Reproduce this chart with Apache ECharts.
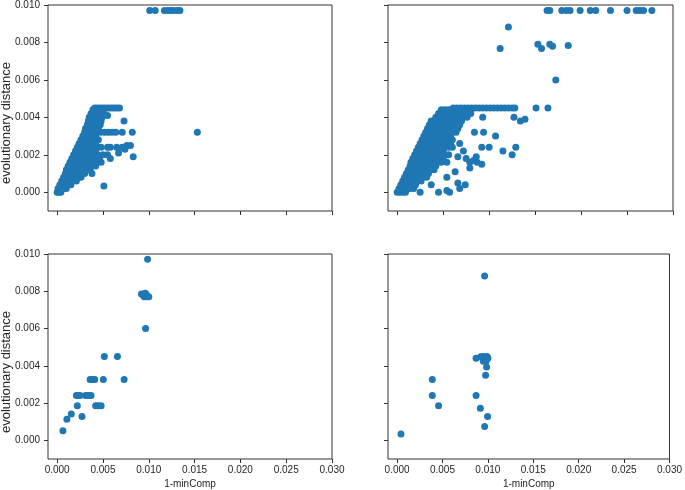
<!DOCTYPE html>
<html>
<head>
<meta charset="utf-8">
<script src="https://cdn.jsdelivr.net/npm/echarts@6/dist/echarts.min.js"></script>
<style>html,body{margin:0;padding:0;background:#fff}#c{width:685px;height:490px}</style>
</head>
<body>
<div id="c"></div>
<script>
// Tick values and labels
var xTicks = [0, 0.005, 0.010, 0.015, 0.020, 0.025, 0.030];
var xTickLabels = ['0.000', '0.005', '0.010', '0.015', '0.020', '0.025', '0.030'];
var yTicks = [0, 0.002, 0.004, 0.006, 0.008, 0.010];
var yTickLabels = ['0.000', '0.002', '0.004', '0.006', '0.008', '0.010'];
var xName = '1-minComp';
var yName = 'evolutionary distance';

// Top-left panel points [1-minComp, evolutionary distance]
var topLeftPoints = [
 [0.0000,0.0000],[0.0002,0.0000],[0.0004,0.0000],
 [0.0001,0.0002],[0.0004,0.0002],[0.0007,0.0002],[0.0010,0.0002],
 [0.0003,0.0004],[0.0006,0.0004],[0.0009,0.0004],[0.0012,0.0004],[0.0015,0.0004],
 [0.0005,0.0006],[0.0008,0.0006],[0.0011,0.0006],[0.0014,0.0006],[0.0017,0.0006],[0.0021,0.0006],
 [0.0007,0.0008],[0.0010,0.0008],[0.0013,0.0008],[0.0016,0.0008],[0.0020,0.0008],[0.0023,0.0008],[0.0026,0.0008],
 [0.0009,0.0010],[0.0012,0.0010],[0.0015,0.0010],[0.0018,0.0010],[0.0022,0.0010],[0.0026,0.0010],[0.0030,0.0010],[0.0038,0.0010],
 [0.0010,0.0012],[0.0013,0.0012],[0.0016,0.0012],[0.0020,0.0012],[0.0024,0.0012],[0.0028,0.0012],[0.0032,0.0012],[0.0036,0.0012],
 [0.0012,0.0014],[0.0015,0.0014],[0.0018,0.0014],[0.0022,0.0014],[0.0026,0.0014],[0.0030,0.0014],[0.0034,0.0014],[0.0038,0.0014],[0.0042,0.0014],
 [0.0014,0.0016],[0.0017,0.0016],[0.0020,0.0016],[0.0024,0.0016],[0.0028,0.0016],[0.0032,0.0016],[0.0036,0.0016],[0.0040,0.0016],[0.0044,0.0016],[0.0048,0.0016],
 [0.0016,0.0018],[0.0019,0.0018],[0.0022,0.0018],[0.0026,0.0018],[0.0030,0.0018],[0.0034,0.0018],[0.0038,0.0018],[0.0042,0.0018],[0.0046,0.0018],[0.0058,0.0018],
 [0.0083,0.0019],
 [0.0018,0.0020],[0.0021,0.0020],[0.0024,0.0020],[0.0028,0.0020],[0.0032,0.0020],[0.0036,0.0020],[0.0040,0.0020],[0.0044,0.0020],[0.0050,0.0020],[0.0055,0.0020],
 [0.0067,0.0021],
 [0.0020,0.0022],[0.0023,0.0022],[0.0026,0.0022],[0.0030,0.0022],[0.0034,0.0022],[0.0038,0.0022],[0.0042,0.0022],
 [0.0022,0.0024],[0.0025,0.0024],[0.0028,0.0024],[0.0032,0.0024],[0.0036,0.0024],[0.0040,0.0024],[0.0044,0.0024],[0.0048,0.0024],[0.0055,0.0024],[0.0058,0.0024],[0.0065,0.0024],[0.0071,0.0024],[0.0074,0.0023],[0.0076,0.0025],[0.0080,0.0025],
 [0.0024,0.0026],[0.0027,0.0026],[0.0030,0.0026],[0.0034,0.0026],[0.0038,0.0026],[0.0042,0.0026],
 [0.0026,0.0028],[0.0029,0.0028],[0.0032,0.0028],[0.0036,0.0028],[0.0040,0.0028],[0.0045,0.0028],
 [0.0028,0.0030],[0.0031,0.0030],[0.0034,0.0030],[0.0038,0.0030],[0.0042,0.0030],
 [0.0030,0.0032],[0.0033,0.0032],[0.0036,0.0032],[0.0040,0.0032],[0.0044,0.0032],[0.0048,0.0032],[0.0052,0.0032],[0.0056,0.0032],[0.0060,0.0032],[0.0064,0.0032],[0.0071,0.0032],[0.0082,0.0032],
 [0.0031,0.0034],[0.0034,0.0034],[0.0037,0.0034],[0.0041,0.0034],[0.0045,0.0034],
 [0.0033,0.0036],[0.0036,0.0036],[0.0039,0.0036],[0.0043,0.0036],[0.0047,0.0036],
 [0.0034,0.0038],[0.0037,0.0038],[0.0040,0.0038],[0.0044,0.0038],[0.0048,0.0038],[0.0073,0.0038],
 [0.0035,0.0040],[0.0038,0.0040],[0.0041,0.0040],[0.0045,0.0040],[0.0049,0.0040],
 [0.0055,0.0041],
 [0.0037,0.0042],[0.0040,0.0042],[0.0043,0.0042],[0.0047,0.0042],[0.0051,0.0042],
 [0.0039,0.0044],[0.0042,0.0044],[0.0046,0.0044],[0.0050,0.0044],
 [0.0041,0.0045],[0.0044,0.0045],[0.0047,0.0045],[0.0050,0.0045],[0.0053,0.0045],[0.0056,0.0045],[0.0059,0.0045],[0.0062,0.0045],[0.0065,0.0045],[0.0068,0.0045],
 [0.0051,0.00034],[0.0153,0.0032],
 [0.0101,0.0097],[0.0107,0.0097],[0.0117,0.0097],[0.0121,0.0097],[0.0124,0.0097],[0.0127,0.0097],[0.0131,0.0097],[0.0134,0.0097]
];

// Top-right panel points
var topRightPoints = [
 [0.0000,0.0000],[0.0003,0.0000],[0.0006,0.0000],[0.0009,0.0000],[0.0025,0.0000],[0.0045,0.0000],[0.0054,0.0001],[0.0057,0.0000],
 [0.0002,0.0002],[0.0005,0.0002],[0.0008,0.0002],[0.0011,0.0002],[0.0014,0.0002],[0.0018,0.0002],[0.0066,0.0005],[0.0068,0.0002],[0.0074,0.0004],
 [0.0004,0.0004],[0.0007,0.0004],[0.0010,0.0004],[0.0013,0.0004],[0.0016,0.0004],[0.0020,0.0004],[0.0037,0.0004],
 [0.0006,0.0006],[0.0009,0.0006],[0.0012,0.0006],[0.0015,0.0006],[0.0018,0.0006],[0.0022,0.0006],[0.0026,0.0006],
 [0.0008,0.0008],[0.0011,0.0008],[0.0014,0.0008],[0.0017,0.0008],[0.0020,0.0008],[0.0024,0.0008],[0.0028,0.0008],[0.0032,0.0008],[0.0054,0.0008],
 [0.0010,0.0010],[0.0013,0.0010],[0.0016,0.0010],[0.0019,0.0010],[0.0022,0.0010],[0.0026,0.0010],[0.0030,0.0010],[0.0034,0.0010],[0.0063,0.0011],
 [0.0012,0.0012],[0.0015,0.0012],[0.0018,0.0012],[0.0021,0.0012],[0.0024,0.0012],[0.0028,0.0012],[0.0032,0.0012],[0.0036,0.0012],[0.0040,0.0012],
 [0.0014,0.0014],[0.0017,0.0014],[0.0020,0.0014],[0.0023,0.0014],[0.0026,0.0014],[0.0030,0.0014],[0.0034,0.0014],[0.0038,0.0014],[0.0042,0.0014],[0.0079,0.0013],
 [0.0015,0.0016],[0.0018,0.0016],[0.0021,0.0016],[0.0024,0.0016],[0.0028,0.0016],[0.0032,0.0016],[0.0036,0.0016],[0.0040,0.0016],[0.0044,0.0016],[0.0048,0.0016],[0.0054,0.0016],[0.0079,0.0016],[0.0087,0.0016],[0.0092,0.0015],
 [0.0017,0.0018],[0.0020,0.0018],[0.0023,0.0018],[0.0026,0.0018],[0.0030,0.0018],[0.0034,0.0018],[0.0038,0.0018],[0.0042,0.0018],[0.0046,0.0018],[0.0050,0.0018],[0.0066,0.0019],[0.0075,0.0018],[0.0083,0.0017],
 [0.0019,0.0020],[0.0022,0.0020],[0.0025,0.0020],[0.0028,0.0020],[0.0032,0.0020],[0.0036,0.0020],[0.0040,0.0020],[0.0044,0.0020],[0.0048,0.0020],[0.0052,0.0020],[0.0056,0.0020],[0.0086,0.0019],[0.0125,0.0020],
 [0.0021,0.0022],[0.0024,0.0022],[0.0027,0.0022],[0.0030,0.0022],[0.0034,0.0022],[0.0038,0.0022],[0.0042,0.0022],[0.0046,0.0022],[0.0050,0.0022],[0.0072,0.0022],[0.0115,0.0022],
 [0.0023,0.0024],[0.0026,0.0024],[0.0029,0.0024],[0.0032,0.0024],[0.0036,0.0024],[0.0040,0.0024],[0.0044,0.0024],[0.0048,0.0024],[0.0052,0.0024],[0.0056,0.0024],[0.0060,0.0024],[0.0092,0.0024],[0.0100,0.0024],[0.0129,0.0024],
 [0.0025,0.0026],[0.0028,0.0026],[0.0031,0.0026],[0.0034,0.0026],[0.0038,0.0026],[0.0042,0.0026],[0.0046,0.0026],[0.0050,0.0026],[0.0054,0.0026],[0.0058,0.0026],[0.0068,0.0026],
 [0.0027,0.0028],[0.0030,0.0028],[0.0033,0.0028],[0.0036,0.0028],[0.0040,0.0028],[0.0044,0.0028],[0.0048,0.0028],[0.0052,0.0028],[0.0056,0.0028],[0.0060,0.0028],
 [0.0029,0.0030],[0.0032,0.0030],[0.0035,0.0030],[0.0038,0.0030],[0.0042,0.0030],[0.0046,0.0030],[0.0050,0.0030],[0.0054,0.0030],[0.0058,0.0030],[0.0107,0.0030],
 [0.0031,0.0032],[0.0034,0.0032],[0.0037,0.0032],[0.0040,0.0032],[0.0044,0.0032],[0.0048,0.0032],[0.0052,0.0032],[0.0056,0.0032],[0.0060,0.0032],[0.0064,0.0032],[0.0084,0.0032],[0.0094,0.0032],
 [0.0033,0.0034],[0.0036,0.0034],[0.0039,0.0034],[0.0042,0.0034],[0.0046,0.0034],[0.0050,0.0034],[0.0054,0.0034],[0.0058,0.0034],[0.0062,0.0034],[0.0066,0.0034],
 [0.0035,0.0036],[0.0038,0.0036],[0.0041,0.0036],[0.0044,0.0036],[0.0048,0.0036],[0.0052,0.0036],[0.0056,0.0036],[0.0060,0.0036],[0.0064,0.0036],[0.0068,0.0036],
 [0.0037,0.0038],[0.0040,0.0038],[0.0043,0.0038],[0.0046,0.0038],[0.0050,0.0038],[0.0054,0.0038],[0.0058,0.0038],[0.0062,0.0038],[0.0066,0.0038],[0.0070,0.0038],[0.0134,0.0038],
 [0.0042,0.0040],[0.0045,0.0040],[0.0048,0.0040],[0.0052,0.0040],[0.0056,0.0040],[0.0060,0.0040],[0.0064,0.0040],[0.0068,0.0040],[0.0072,0.0040],[0.0076,0.0040],[0.0093,0.0040],[0.0127,0.0040],[0.0139,0.0039],
 [0.0045,0.0042],[0.0048,0.0042],[0.0052,0.0042],[0.0056,0.0042],[0.0060,0.0042],[0.0064,0.0042],[0.0068,0.0042],[0.0072,0.0042],[0.0076,0.0042],[0.0080,0.0042],
 [0.0048,0.0044],[0.0052,0.0044],[0.0056,0.0044],[0.0060,0.0044],[0.0064,0.0044],[0.0068,0.0044],[0.0072,0.0044],[0.0076,0.0044],[0.0080,0.0044],
 [0.0061,0.0045],[0.0065,0.0045],[0.0069,0.0045],[0.0073,0.0045],[0.0077,0.0045],[0.0081,0.0045],[0.0085,0.0045],[0.0089,0.0045],[0.0093,0.0045],[0.0097,0.0045],[0.0101,0.0045],[0.0105,0.0045],[0.0109,0.0045],[0.0113,0.0045],[0.0117,0.0045],[0.0121,0.0045],[0.0125,0.0045],[0.0128,0.0045],[0.0151,0.0045],[0.0164,0.0045],
 [0.01725,0.0060],
 [0.0112,0.00768],[0.0153,0.0079],[0.0157,0.00768],[0.0166,0.0079],[0.0169,0.0078],[0.0186,0.00784],
 [0.0121,0.00883],
 [0.0163,0.0097],[0.0166,0.0097],[0.0179,0.0097],[0.0184,0.0097],[0.0188,0.0097],[0.0199,0.0097],[0.0210,0.0097],[0.0216,0.0097],[0.0232,0.0097],[0.0250,0.0097],[0.0260,0.0097],[0.0264,0.0097],[0.0268,0.0097],[0.0277,0.0097]
];

// Bottom-left panel points
var bottomLeftPoints = [
 [0.00063,0.00052],[0.00106,0.00113],[0.00154,0.00142],[0.00271,0.00128],[0.0022,0.00186],
 [0.0042,0.00186],[0.0045,0.00186],[0.0048,0.00186],
 [0.0021,0.00241],[0.0023,0.00241],[0.0025,0.00241],[0.0031,0.00241],[0.0033,0.00241],[0.0035,0.00241],[0.0037,0.00241],
 [0.0036,0.00326],[0.0038,0.00326],[0.0040,0.00326],[0.0041,0.00326],[0.00504,0.00326],[0.00731,0.00326],
 [0.00515,0.0045],[0.00658,0.0045],
 [0.00965,0.0060],
 [0.0092,0.00785],[0.0094,0.0078],[0.0095,0.0077],[0.0096,0.0079],[0.0097,0.00785],[0.0098,0.0077],[0.0100,0.0077],
 [0.00987,0.00972]
];

// Bottom-right panel points
var bottomRightPoints = [
 [0.00043,0.00034],[0.00388,0.00326],[0.00388,0.00241],[0.00457,0.00186],
 [0.0087,0.00241],[0.00917,0.00172],[0.00997,0.00128],[0.00964,0.00074],
 [0.00975,0.0035],[0.00986,0.00394],[0.0095,0.00424],
 [0.0087,0.0044],[0.0092,0.00448],[0.0095,0.0045],[0.0097,0.00445],[0.0099,0.0045],[0.0100,0.0044],[0.0098,0.00425],
 [0.00964,0.00882]
];

var panels = [topLeftPoints, topRightPoints, bottomLeftPoints, bottomRightPoints];
var grids = [
 {left: 48, top: 5, width: 284, height: 206},
 {left: 388, top: 5, width: 285, height: 206},
 {left: 48, top: 254, width: 284, height: 206},
 {left: 388, top: 254, width: 285, height: 206}
];
var font = 'Liberation Sans';
var textColor = '#262626';
var xAxes = [], yAxes = [], series = [], graphics = [];
grids.forEach(function (g, i) {
  g.show = true; g.borderColor = '#333'; g.borderWidth = 1; g.containLabel = false;
  var bottomRow = i >= 2, leftCol = (i % 2 === 0);
  xAxes.push({
    type: 'value', gridIndex: i, min: -0.001, max: 0.030,
    name: bottomRow ? xName : '', nameLocation: 'middle', nameGap: 20,
    nameTextStyle: {fontFamily: font, fontSize: 10, color: textColor},
    axisLine: {show: false, onZero: false},
    axisTick: {show: true, inside: false, length: 4, lineStyle: {color: '#333'}, customValues: xTicks},
    axisLabel: {show: bottomRow, customValues: xTicks, margin: 6, fontFamily: font, fontSize: 10, color: textColor,
      formatter: function (v) { var k = xTicks.indexOf(v); return k >= 0 ? xTickLabels[k] : ''; }},
    splitLine: {show: false}
  });
  yAxes.push({
    type: 'value', gridIndex: i, min: -0.001, max: 0.010,
    axisLine: {show: false, onZero: false},
    axisTick: {show: true, inside: false, length: 4, lineStyle: {color: '#333'}, customValues: yTicks},
    axisLabel: {show: leftCol, customValues: yTicks, margin: 8, fontFamily: font, fontSize: 10, color: textColor,
      formatter: function (v) { var k = yTicks.indexOf(v); return k >= 0 ? yTickLabels[k] : ''; }},
    splitLine: {show: false}
  });
  if (leftCol) {
    graphics.push({
      type: 'text', x: 6, y: g.top + g.height / 2 + 15, rotation: Math.PI / 2,
      style: {text: yName, fontFamily: font, fontSize: 13, fill: textColor, textAlign: 'center', textVerticalAlign: 'middle'}
    });
  }
  series.push({
    type: 'scatter', xAxisIndex: i, yAxisIndex: i, data: panels[i],
    symbol: 'circle', symbolSize: 7,
    itemStyle: {color: '#1f77b4', opacity: 1},
    animation: false
  });
});
var chart = echarts.init(document.getElementById('c'), null, {renderer: 'canvas'});
chart.setOption({
  animation: false,
  backgroundColor: '#fff',
  grid: grids, xAxis: xAxes, yAxis: yAxes, series: series, graphic: graphics
});
</script>
</body>
</html>
